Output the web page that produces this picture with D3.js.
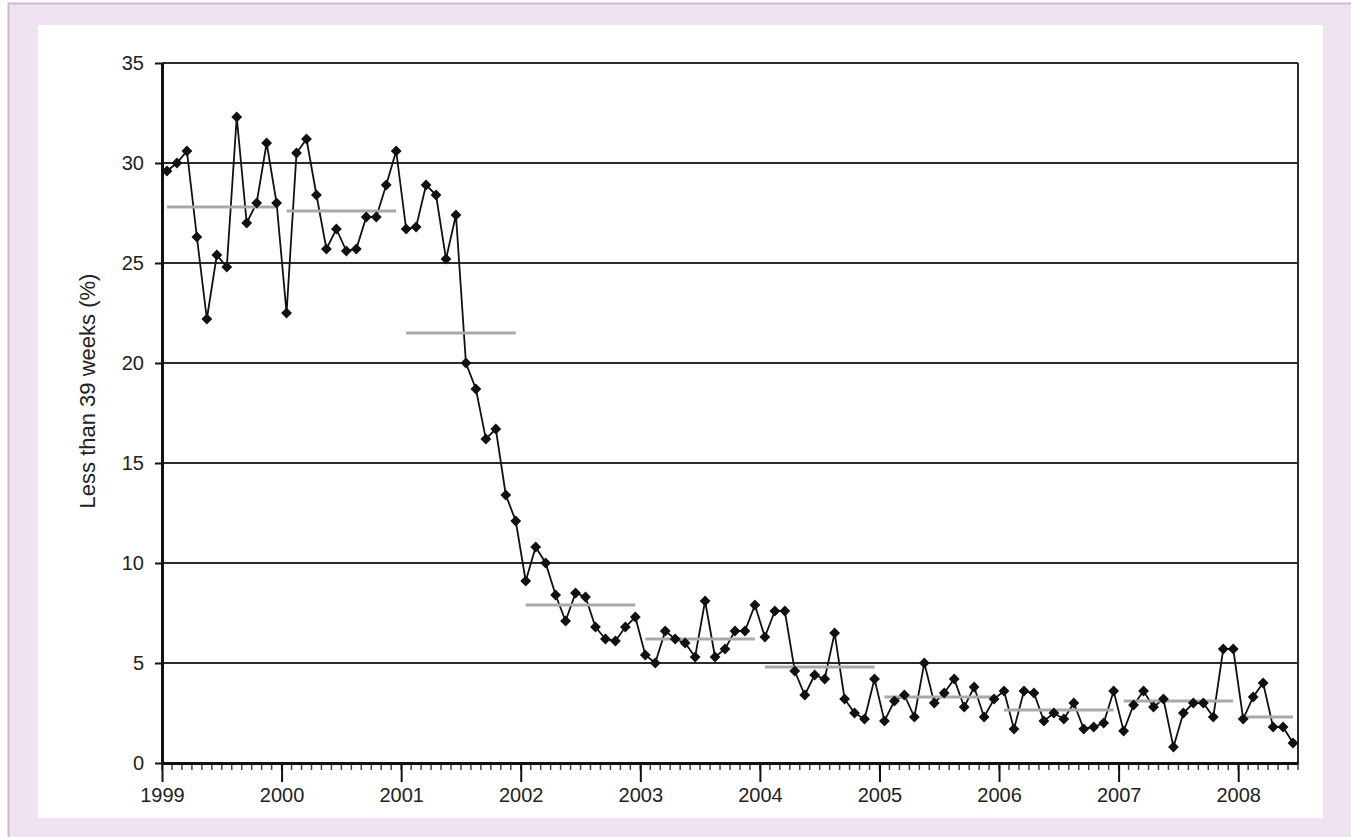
<!DOCTYPE html>
<html>
<head>
<meta charset="utf-8">
<script src="https://cdn.jsdelivr.net/npm/d3@7"></script>
<style>
  html, body { margin: 0; padding: 0; background: #ffffff; }
  svg { display: block; font-family: "Liberation Sans", Arial, sans-serif; }
</style>
</head>
<body>
<script>
// monthly values, Jan 1999 .. Jun 2008
const startYear = 1999;
const values = [
  29.6, 30.0, 30.6, 26.3, 22.2, 25.4, 24.8, 32.3, 27.0, 28.0, 31.0, 28.0,
  22.5, 30.5, 31.2, 28.4, 25.7, 26.7, 25.6, 25.7, 27.3, 27.3, 28.9, 30.6,
  26.7, 26.8, 28.9, 28.4, 25.2, 27.4, 20.0, 18.7, 16.2, 16.7, 13.4, 12.1,
  9.1, 10.8, 10.0, 8.4, 7.1, 8.5, 8.3, 6.8, 6.2, 6.1, 6.8, 7.3,
  5.4, 5.0, 6.6, 6.2, 6.0, 5.3, 8.1, 5.3, 5.7, 6.6, 6.6, 7.9,
  6.3, 7.6, 7.6, 4.6, 3.4, 4.4, 4.2, 6.5, 3.2, 2.5, 2.2, 4.2,
  2.1, 3.1, 3.4, 2.3, 5.0, 3.0, 3.5, 4.2, 2.8, 3.8, 2.3, 3.2,
  3.6, 1.7, 3.6, 3.5, 2.1, 2.5, 2.2, 3.0, 1.7, 1.8, 2.0, 3.6,
  1.6, 2.9, 3.6, 2.8, 3.2, 0.8, 2.5, 3.0, 3.0, 2.3, 5.7, 5.7,
  2.2, 3.3, 4.0, 1.8, 1.8, 1.0
];
// yearly means (grey bars)
const meanYears = [1999, 2000, 2001, 2002, 2003, 2004, 2005, 2006, 2007, 2008];
const meanValues = [27.8, 27.6, 21.5, 7.9, 6.2, 4.8, 3.3, 2.65, 3.1, 2.3];
const yTicks = [0, 5, 10, 15, 20, 25, 30, 35];
const xYears = [1999, 2000, 2001, 2002, 2003, 2004, 2005, 2006, 2007, 2008];
const yLabel = "Less than 39 weeks (%)";

const width = 1351, height = 837;
const plotLeft = 162, plotRight = 1298, plotTop = 63, plotBottom = 763;

const svg = d3.select("body").append("svg")
  .attr("width", width)
  .attr("height", height);

// frame
svg.append("rect")
  .attr("x", 8.5).attr("y", 3.5)
  .attr("width", width).attr("height", height)
  .attr("fill", "#efe2f1")
  .attr("stroke", "#d2b3da")
  .attr("stroke-width", 2);
svg.append("rect")
  .attr("x", 38).attr("y", 25)
  .attr("width", 1285).attr("height", 793)
  .attr("fill", "#ffffff");

const x = d3.scaleLinear().domain([1999, 2008.5]).range([plotLeft, plotRight]);
const y = d3.scaleLinear().domain([0, 35]).range([plotBottom, plotTop]);

const data = values.map((v, i) => ({ t: startYear + (i + 0.5) / 12, v: v }));

// grid lines
svg.append("g")
  .selectAll("line")
  .data(yTicks.filter(d => d > 0))
  .join("line")
  .attr("x1", plotLeft).attr("x2", plotRight)
  .attr("y1", d => y(d)).attr("y2", d => y(d))
  .attr("stroke", "#2b2b2b")
  .attr("stroke-width", 2);

// right border
svg.append("line")
  .attr("x1", plotRight).attr("x2", plotRight)
  .attr("y1", plotTop).attr("y2", plotBottom)
  .attr("stroke", "#2b2b2b")
  .attr("stroke-width", 2);

// y axis
const yAxis = svg.append("g")
  .attr("transform", `translate(${plotLeft},0)`)
  .call(d3.axisLeft(y).tickValues(yTicks).tickSize(7).tickPadding(11).tickSizeOuter(0));
yAxis.select(".domain").attr("stroke", "#111").attr("stroke-width", 3);
yAxis.selectAll(".tick line").attr("stroke", "#111").attr("stroke-width", 2);
yAxis.selectAll("text").attr("font-size", 20).attr("fill", "#222")
  .attr("font-family", "Liberation Sans, Arial, sans-serif");

// x axis minor ticks (months)
const months = d3.range(0, 115).map(i => startYear + i / 12).filter(d => d <= 2008.5);
svg.append("g")
  .selectAll("line")
  .data(months)
  .join("line")
  .attr("x1", d => x(d)).attr("x2", d => x(d))
  .attr("y1", plotBottom).attr("y2", plotBottom + 7)
  .attr("stroke", "#444")
  .attr("stroke-width", 1.5);

// x axis
const xAxis = svg.append("g")
  .attr("transform", `translate(0,${plotBottom})`)
  .call(d3.axisBottom(x).tickValues(xYears).tickFormat(d3.format("d"))
    .tickSize(19).tickPadding(6).tickSizeOuter(0));
xAxis.select(".domain").attr("stroke", "#111").attr("stroke-width", 3);
xAxis.selectAll(".tick line").attr("stroke", "#111").attr("stroke-width", 2);
xAxis.selectAll("text").attr("font-size", 20).attr("fill", "#222")
  .attr("font-family", "Liberation Sans, Arial, sans-serif");

// y label
svg.append("text")
  .attr("transform", `translate(95,391) rotate(-90)`)
  .attr("text-anchor", "middle")
  .attr("font-size", 22)
  .attr("fill", "#222")
  .text(yLabel);

// series line
svg.append("path")
  .datum(data)
  .attr("fill", "none")
  .attr("stroke", "#111")
  .attr("stroke-width", 1.8)
  .attr("d", d3.line().x(d => x(d.t)).y(d => y(d.v)));

// yearly mean bars
svg.append("g")
  .selectAll("line")
  .data(meanYears.map((yr, i) => ({ yr: yr, v: meanValues[i] })))
  .join("line")
  .attr("x1", d => x(d.yr + 0.5 / 12))
  .attr("x2", d => x(Math.min(d.yr + 11.5 / 12, startYear + (values.length - 0.5) / 12)))
  .attr("y1", d => y(d.v)).attr("y2", d => y(d.v))
  .attr("stroke", "#a9a9a9")
  .attr("stroke-width", 3);

// markers
const diamond = d3.symbol().type(d3.symbolDiamond2 || d3.symbolDiamond).size(75);
svg.append("g")
  .selectAll("path")
  .data(data)
  .join("path")
  .attr("transform", d => `translate(${x(d.t)},${y(d.v)})`)
  .attr("d", diamond)
  .attr("fill", "#111");
</script>
</body>
</html>
